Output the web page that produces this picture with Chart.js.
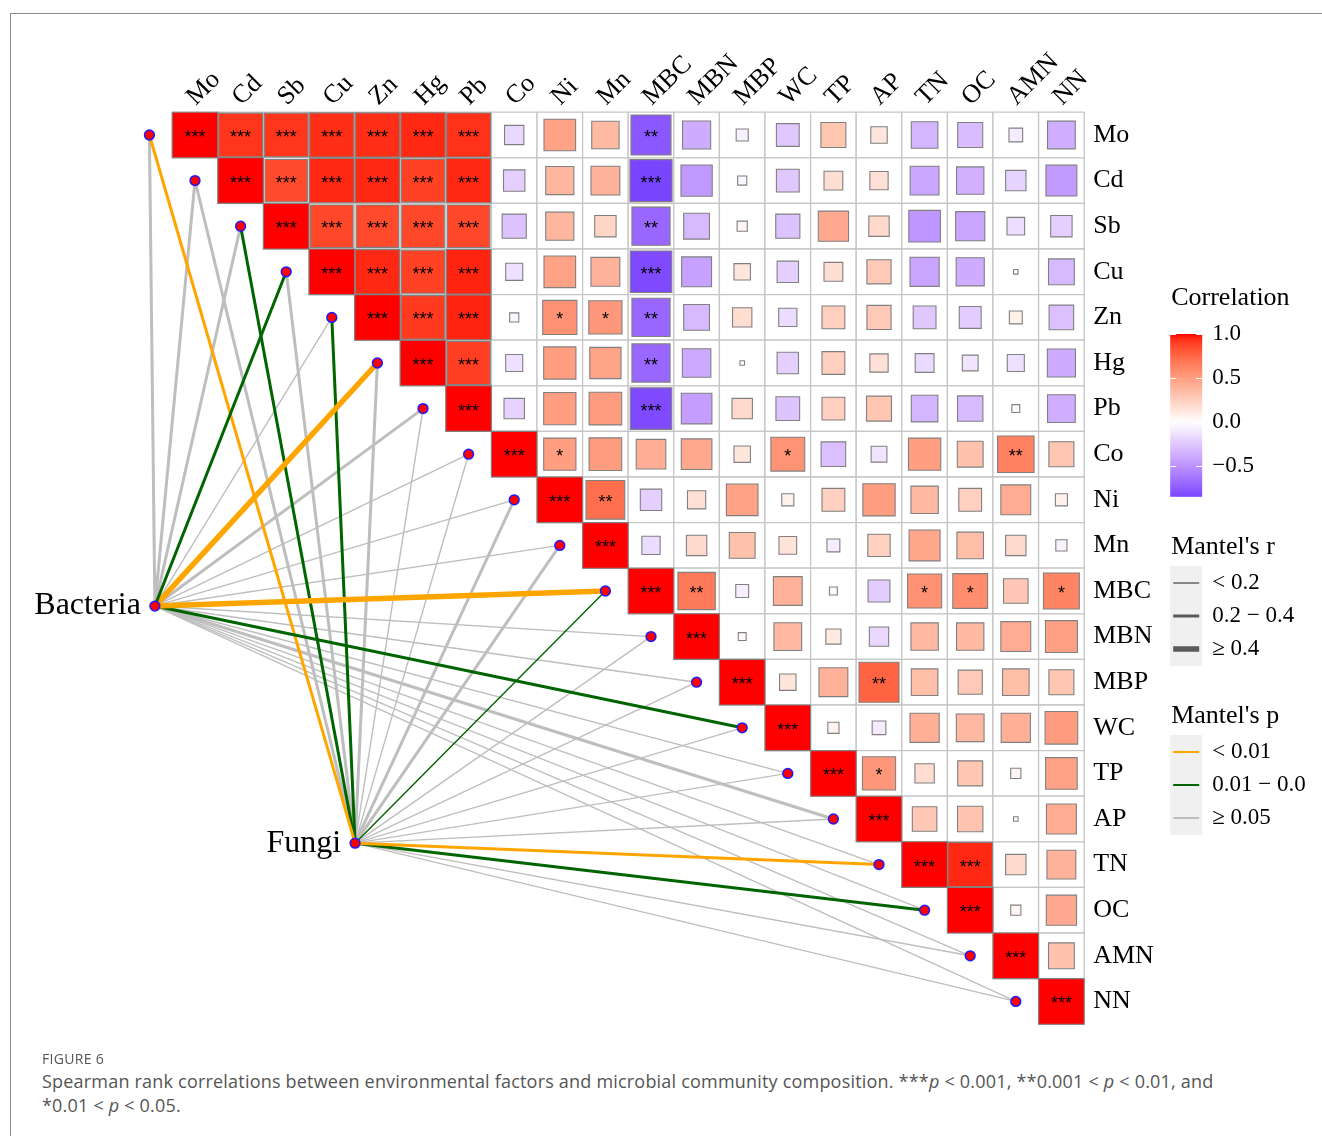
<!DOCTYPE html>
<html>
<head>
<meta charset="utf-8">
<script src="https://cdn.jsdelivr.net/npm/chart.js@4.4.1/dist/chart.umd.min.js"></script>
<style>
  html, body { margin: 0; padding: 0; background: #fff; width: 1322px; height: 1136px; overflow: hidden; }
  #frame { position: absolute; left: 10px; top: 13px; width: 1400px; height: 1200px;
           border-left: 1.5px solid #8c8c8c; border-top: 1.5px solid #8c8c8c; }
  #chart { position: absolute; left: 0; top: 0; }
  .cap { position: absolute; left: 42px; font-family: "Open Sans", sans-serif; color: #555; white-space: nowrap; }
  #figno { top: 1049px; font-size: 14px; letter-spacing: 0.3px; }
  #figtext { top: 1069px; font-size: 18px; line-height: 24px; letter-spacing: 0.2px; }
</style>
</head>
<body>
<div id="frame"></div>
<canvas id="chart" width="1322" height="1060"></canvas>
<div class="cap" id="figno">FIGURE 6</div>
<div class="cap" id="figtext">Spearman rank correlations between environmental factors and microbial community composition. ***<i>p</i> &lt; 0.001, **0.001 &lt; <i>p</i> &lt; 0.01, and<br>*0.01 &lt; <i>p</i> &lt; 0.05.</div>
<script>
// Variables, in matrix order
const variables = ['Mo','Cd','Sb','Cu','Zn','Hg','Pb','Co','Ni','Mn','MBC','MBN','MBP','WC','TP','AP','TN','OC','AMN','NN'];

// Spearman r, each row running from its diagonal cell to NN
const rMo  = [1, 0.92, 0.92, 0.94, 0.94, 0.95, 0.93, -0.18, 0.48, 0.36, -0.77, -0.38, -0.07, -0.25, 0.30, 0.13, -0.34, -0.30, -0.09, -0.37];
const rCd  = [1, 0.86, 0.95, 0.95, 0.89, 0.95, -0.22, 0.38, 0.40, -0.85, -0.47, -0.04, -0.25, 0.17, 0.16, -0.40, -0.36, -0.20, -0.46];
const rSb  = [1, 0.87, 0.86, 0.87, 0.87, -0.28, 0.38, 0.22, -0.70, -0.32, 0.05, -0.28, 0.44, 0.20, -0.48, -0.41, -0.15, -0.22];
const rCu  = [1, 0.95, 0.89, 0.96, -0.14, 0.48, 0.40, -0.83, -0.43, 0.13, -0.22, 0.17, 0.28, -0.41, -0.38, -0.01, -0.32];
const rZn  = [1, 0.91, 0.96, -0.04, 0.56, 0.53, -0.70, -0.32, 0.18, -0.16, 0.25, 0.28, -0.25, -0.23, 0.08, -0.29];
const rHg  = [1, 0.90, -0.14, 0.50, 0.47, -0.70, -0.39, -0.01, -0.22, 0.25, 0.16, -0.17, -0.12, -0.14, -0.38];
const rPb  = [1, -0.20, 0.50, 0.51, -0.83, -0.45, 0.20, -0.27, 0.25, 0.30, -0.34, -0.31, -0.03, -0.37];
const rCo  = [1, 0.50, 0.51, 0.42, 0.45, 0.13, 0.55, -0.29, -0.12, 0.50, 0.32, 0.64, 0.30];
const rNi  = [1, 0.72, -0.22, 0.16, 0.48, 0.07, 0.25, 0.50, 0.36, 0.25, 0.43, 0.07];
const rMn  = [1, -0.16, 0.20, 0.32, 0.15, -0.08, 0.24, 0.46, 0.34, 0.20, -0.06];
const rMBC = [1, 0.67, -0.08, 0.40, 0.03, -0.23, 0.56, 0.58, 0.29, 0.62];
const rMBN = [1, 0.03, 0.37, 0.11, -0.18, 0.36, 0.36, 0.43, 0.49];
const rMBP = [1, 0.13, 0.40, 0.77, 0.34, 0.28, 0.34, 0.30];
const rWC  = [1, 0.06, -0.09, 0.41, 0.37, 0.41, 0.51];
const rTP  = [1, 0.53, 0.18, 0.30, 0.05, 0.48];
const rAP  = [1, 0.29, 0.31, 0.01, 0.43];
const rTN  = [1, 0.95, 0.20, 0.40];
const rOC  = [1, 0.05, 0.44];
const rAMN = [1, 0.32];
const rNN  = [1];

// Significance level per cell (number of asterisks), same layout
const sigMo  = [3,3,3,3,3,3,3,0,0,0,2,0,0,0,0,0,0,0,0,0];
const sigCd  = [3,3,3,3,3,3,0,0,0,3,0,0,0,0,0,0,0,0,0];
const sigSb  = [3,3,3,3,3,0,0,0,2,0,0,0,0,0,0,0,0,0];
const sigCu  = [3,3,3,3,0,0,0,3,0,0,0,0,0,0,0,0,0];
const sigZn  = [3,3,3,0,1,1,2,0,0,0,0,0,0,0,0,0];
const sigHg  = [3,3,0,0,0,2,0,0,0,0,0,0,0,0,0];
const sigPb  = [3,0,0,0,3,0,0,0,0,0,0,0,0,0];
const sigCo  = [3,1,0,0,0,0,1,0,0,0,0,2,0];
const sigNi  = [3,2,0,0,0,0,0,0,0,0,0,0];
const sigMn  = [3,0,0,0,0,0,0,0,0,0,0];
const sigMBC = [3,2,0,0,0,0,1,1,0,1];
const sigMBN = [3,0,0,0,0,0,0,0,0];
const sigMBP = [3,0,0,2,0,0,0,0];
const sigWC  = [3,0,0,0,0,0,0];
const sigTP  = [3,1,0,0,0,0];
const sigAP  = [3,0,0,0,0];
const sigTN  = [3,3,0,0];
const sigOC  = [3,0,0];
const sigAMN = [3,0];
const sigNN  = [3];

// Mantel test classes for each community against every variable
const mantelGroups = ['Bacteria', 'Fungi'];
const mantelRClasses = ['< 0.2', '0.2 \u2212 0.4', '\u2265 0.4'];
const mantelPClasses = ['< 0.01', '0.01 \u2212 0.05', '\u2265 0.05'];
const bacteriaRClass = [1,1,1,1,0,2,1,0,0,0,2,0,0,1,0,1,0,0,0,0];
const bacteriaPClass = [2,2,2,1,2,0,2,2,2,2,0,2,2,1,2,2,2,2,2,2];
const fungiRClass    = [1,1,1,1,1,1,0,0,1,1,0,0,0,0,0,0,1,1,0,0];
const fungiPClass    = [0,2,1,2,1,2,2,2,2,2,1,2,2,2,2,2,0,1,2,2];

const corrRows = [rMo,rCd,rSb,rCu,rZn,rHg,rPb,rCo,rNi,rMn,rMBC,rMBN,rMBP,rWC,rTP,rAP,rTN,rOC,rAMN,rNN];
const sigRows  = [sigMo,sigCd,sigSb,sigCu,sigZn,sigHg,sigPb,sigCo,sigNi,sigMn,sigMBC,sigMBN,sigMBP,sigWC,sigTP,sigAP,sigTN,sigOC,sigAMN,sigNN];
const mantelR = [bacteriaRClass, fungiRClass];
const mantelP = [bacteriaPClass, fungiPClass];

// ---- layout & style ----
const nodePos = [{x: -0.88, y: 10.33}, {x: 3.51, y: 15.53}];   // Bacteria, Fungi (cell units)
const linkWidths = [1.4, 3, 5.5];
const linkColors = ['#FFA500', '#006400', '#BEBEBE'];
const SERIF = '"Liberation Serif", "Times New Roman", serif';
const SANS = '"Liberation Sans", Arial, sans-serif';
const X_MIN = -3.838, X_MAX = 19.5;
const CANVAS_W = 1322, CANVAS_H = 1060;
const GRID_RIGHT = 1084.2, GRID_BOTTOM = 1024.2, Y_AXIS_W = 80;
const PLOT_EDGE = 1306;   // right edge of the exported plot region

// Lab-space colour ramp: blue (-1) -> white (0) -> red (1)
function hex2rgb(h){ return [1,3,5].map(i => parseInt(h.substr(i,2),16)); }
function s2l(c){ c/=255; return c <= 0.04045 ? c/12.92 : Math.pow((c+0.055)/1.055, 2.4); }
function l2s(c){ const v = c <= 0.0031308 ? 12.92*c : 1.055*Math.pow(c,1/2.4)-0.055; return Math.round(Math.max(0,Math.min(1,v))*255); }
function rgb2lab(rgb){
  const [r,g,b] = rgb.map(s2l);
  const X = (0.4124*r+0.3576*g+0.1805*b)/0.95047, Y = 0.2126*r+0.7152*g+0.0722*b, Z = (0.0193*r+0.1192*g+0.9505*b)/1.08883;
  const f = t => t > 0.008856 ? Math.cbrt(t) : 7.787*t + 16/116;
  return [116*f(Y)-16, 500*(f(X)-f(Y)), 200*(f(Y)-f(Z))];
}
function lab2rgb([L,a,b]){
  const fy = (L+16)/116, fx = fy + a/500, fz = fy - b/200;
  const fi = t => { const t3 = t*t*t; return t3 > 0.008856 ? t3 : (t-16/116)/7.787; };
  const X = 0.95047*fi(fx), Y = fi(fy), Z = 1.08883*fi(fz);
  return [3.2406*X-1.5372*Y-0.4986*Z, -0.9689*X+1.8758*Y+0.0415*Z, 0.0557*X-0.2040*Y+1.0570*Z].map(l2s);
}
const LAB_WHITE = rgb2lab([255,255,255]);
const LAB_RED = rgb2lab(hex2rgb('#ff0000'));
const LAB_BLUE = rgb2lab(hex2rgb('#4d1aff'));
function corrColor(r){
  const end = r >= 0 ? LAB_RED : LAB_BLUE, t = Math.min(1, Math.abs(r));
  const c = lab2rgb(LAB_WHITE.map((w,i) => w + (end[i]-w)*t));
  return `rgb(${c[0]},${c[1]},${c[2]})`;
}

// ---- datasets ----
const cellBg = [], cellSq = [];
corrRows.forEach((row, i) => row.forEach((r, k) => {
  cellBg.push({x: i + k, y: i});
  cellSq.push({x: i + k, y: i, r: r});
}));
const cellPx = c => Math.abs(c.scales.x.getPixelForValue(1) - c.scales.x.getPixelForValue(0));

const datasets = [];
mantelGroups.forEach((g, gi) => {
  variables.forEach((v, i) => {
    const p = mantelP[gi][i], w = mantelR[gi][i];
    datasets.push({
      label: g + '-' + v,
      type: 'scatter', showLine: true,
      data: [{x: nodePos[gi].x, y: nodePos[gi].y}, {x: i - 1, y: i}],
      borderColor: linkColors[p], borderWidth: linkWidths[w],
      pointRadius: 0, order: p === 2 ? 40 : 30, clip: false
    });
  });
});
const anchorPts = variables.map((v, i) => ({x: i - 1, y: i})).concat(nodePos.map(n => ({x: n.x, y: n.y})));
datasets.push({
  label: 'anchors', type: 'scatter', data: anchorPts,
  pointRadius: 4.9, pointBackgroundColor: '#ff0000', pointBorderColor: '#1a1aff', pointBorderWidth: 1.5,
  order: 10, clip: false
});
datasets.push({
  label: 'cells', type: 'scatter', data: cellBg, pointStyle: 'rect',
  pointRadius: c => cellPx(c.chart) / Math.SQRT2,
  pointBackgroundColor: '#ffffff', pointBorderColor: '#c6c6c6', pointBorderWidth: 1.3,
  order: 6, clip: false
});
datasets.push({
  label: 'corr', type: 'scatter', data: cellSq, pointStyle: 'rect',
  pointRadius: c => cellPx(c.chart) * Math.sqrt(Math.abs(c.raw.r)) / Math.SQRT2,
  pointBackgroundColor: c => corrColor(c.raw.r),
  pointBorderColor: '#808080', pointBorderWidth: 1.1,
  order: 5, clip: false
});

// ---- text on cells and node names ----
const cellTextPlugin = {
  id: 'cellText',
  afterDatasetsDraw(chart) {
    const {ctx, scales: {x, y}} = chart;
    ctx.save();
    ctx.fillStyle = '#000';
    ctx.font = '18px ' + SANS;
    ctx.textAlign = 'center'; ctx.textBaseline = 'middle';
    sigRows.forEach((row, i) => row.forEach((s, k) => {
      if (!s) return;
      ctx.fillText('*'.repeat(s), x.getPixelForValue(i + k), y.getPixelForValue(i) + 3);
    }));
    ctx.font = '32px ' + SERIF; ctx.textAlign = 'right';
    mantelGroups.forEach((g, gi) => {
      ctx.fillText(g, x.getPixelForValue(nodePos[gi].x) - 14, y.getPixelForValue(nodePos[gi].y));
    });
    ctx.restore();
  }
};

// ---- side legends ----
const legendPlugin = {
  id: 'sideLegend',
  afterDraw(chart) {
    const ctx = chart.ctx;
    const x0 = chart.chartArea.right + 86;    // key column
    const xt = x0 + 42;                        // key labels
    ctx.save();
    ctx.beginPath(); ctx.rect(0, 0, PLOT_EDGE, CANVAS_H); ctx.clip();
    ctx.fillStyle = '#000'; ctx.textBaseline = 'middle'; ctx.textAlign = 'left';
    // colour bar
    ctx.font = '26px ' + SERIF;
    ctx.fillText('Correlation', x0 + 1, 298);
    const cMin = Math.min(...corrRows.flat());
    const yAt = v => 334 + (1 - v) * 88;
    const g = ctx.createLinearGradient(0, yAt(1), 0, yAt(cMin));
    for (let s = 0; s <= 40; s++) {
      const v = 1 - (1 - cMin) * s / 40;
      g.addColorStop(s / 40, corrColor(v));
    }
    ctx.fillStyle = g;
    ctx.fillRect(x0, yAt(1), 32, yAt(cMin) - yAt(1));
    ctx.strokeStyle = '#fff'; ctx.lineWidth = 1;
    ctx.fillStyle = '#000'; ctx.font = '23px ' + SERIF;
    [[1, '1.0'], [0.5, '0.5'], [0, '0.0'], [-0.5, '\u22120.5']].forEach(([v, t]) => {
      const yy = Math.round(yAt(v)) + 0.5;
      ctx.beginPath(); ctx.moveTo(x0, yy); ctx.lineTo(x0 + 6, yy); ctx.moveTo(x0 + 26, yy); ctx.lineTo(x0 + 32, yy); ctx.stroke();
      ctx.fillText(t, xt, yAt(v));
    });
    // Mantel's r
    ctx.font = '26px ' + SERIF;
    ctx.fillText("Mantel's r", x0 + 1, 547);
    ctx.fillStyle = '#f0f0f0';
    ctx.fillRect(x0, 566, 32, 100);
    ctx.font = '23px ' + SERIF;
    mantelRClasses.forEach((t, k) => {
      const yy = 583 + k * 33;
      ctx.strokeStyle = '#5a5a5a'; ctx.lineWidth = linkWidths[k];
      ctx.beginPath(); ctx.moveTo(x0 + 3, yy); ctx.lineTo(x0 + 29, yy); ctx.stroke();
      ctx.fillStyle = '#000'; ctx.fillText(t, xt, yy);
    });
    // Mantel's p
    ctx.font = '26px ' + SERIF;
    ctx.fillText("Mantel's p", x0 + 1, 716);
    ctx.fillStyle = '#f0f0f0';
    ctx.fillRect(x0, 735, 32, 100);
    ctx.font = '23px ' + SERIF;
    mantelPClasses.forEach((t, k) => {
      const yy = 752 + k * 33;
      ctx.strokeStyle = linkColors[k]; ctx.lineWidth = 2;
      ctx.beginPath(); ctx.moveTo(x0 + 3, yy); ctx.lineTo(x0 + 29, yy); ctx.stroke();
      ctx.fillStyle = '#000'; ctx.fillText(t, xt, yy);
    });
    ctx.restore();
  }
};

new Chart(document.getElementById('chart'), {
  type: 'scatter',
  data: { datasets },
  options: {
    responsive: false, animation: false, events: [],
    layout: { padding: { left: 20, right: CANVAS_W - GRID_RIGHT - Y_AXIS_W, top: 0, bottom: CANVAS_H - GRID_BOTTOM } },
    plugins: { legend: { display: false }, tooltip: { enabled: false } },
    scales: {
      x: {
        type: 'linear', position: 'top', min: X_MIN, max: X_MAX,
        grid: { display: false, drawTicks: false }, border: { display: false },
        afterBuildTicks: s => { s.ticks = variables.map((_, i) => ({ value: i })); },
        afterFit: s => { s.height = 112.2; },
        ticks: {
          autoSkip: false, minRotation: 45, maxRotation: 45, padding: 0, labelOffset: 18, color: '#000',
          font: { family: SERIF, size: 26 },
          callback: v => variables[v] ?? ''
        }
      },
      y: {
        type: 'linear', position: 'right', reverse: true, min: -0.5, max: 19.5,
        grid: { display: false, drawTicks: false }, border: { display: false },
        afterBuildTicks: s => { s.ticks = variables.map((_, i) => ({ value: i })); },
        afterFit: s => { s.width = Y_AXIS_W; },
        ticks: {
          autoSkip: false, padding: 9, color: '#000',
          font: { family: SERIF, size: 26 },
          callback: v => variables[v] ?? ''
        }
      }
    }
  },
  plugins: [cellTextPlugin, legendPlugin]
});
</script>
</body>
</html>
